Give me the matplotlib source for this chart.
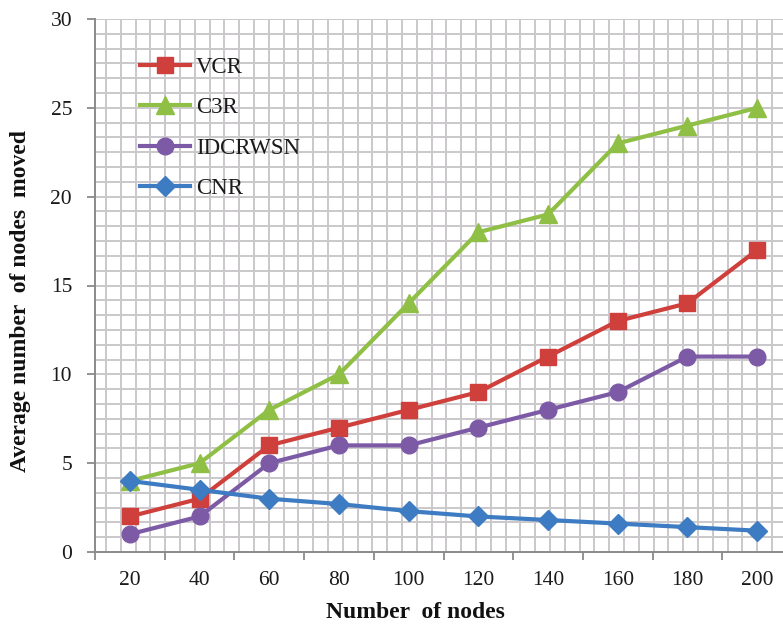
import numpy as np
import matplotlib
matplotlib.use("Agg")
import matplotlib.pyplot as plt
from matplotlib.ticker import MultipleLocator, FixedLocator, NullFormatter

# Data
nodes = [20, 40, 60, 80, 100, 120, 140, 160, 180, 200]
vcr = [2, 3, 6, 7, 8, 9, 11, 13, 14, 17]
c3r = [4, 5, 8, 10, 14, 18, 19, 23, 24, 25]
idcrwsn = [1, 2, 5, 6, 6, 7, 8, 9, 11, 11]
cnr = [4, 3.5, 3, 2.7, 2.3, 2.0, 1.8, 1.6, 1.4, 1.2]

plt.rcParams["font.family"] = ["Liberation Serif", "DejaVu Serif"]

W, H = 783, 630
fig = plt.figure(figsize=(W / 100, H / 100), dpi=100)
ax_left, ax_bottom, ax_w, ax_h = 95, 78, 697, 533
ax = fig.add_axes([ax_left / W, ax_bottom / H, ax_w / W, ax_h / H])

x = np.arange(len(nodes))
ax.set_xlim(-0.5, len(nodes) - 0.5)
ax.set_ylim(0, 30)

# Background grid pattern of the plot area
grid_kw = dict(color="#cbc8cc", linewidth=1.4, zorder=0)
for yv in np.arange(5 / 6, 30.01, 5 / 6):
    ax.axhline(yv, **grid_kw)
step = 14.8 / ax_w
start = (91.2 - ax_left) / ax_w
for xf in np.arange(start, 1.0, step):
    if xf > 0.002:
        ax.axvline(xf * (len(nodes)) - 0.5, **grid_kw)

series = [
    ("VCR", vcr, "#cf3f3b", "s", 11.5),
    ("C3R", c3r, "#8fbf45", "^", 13),
    ("IDCRWSN", idcrwsn, "#7d5aa6", "o", 12),
    ("CNR", cnr, "#3d7cc2", "D", 10),
]
for name, vals, col, mk, ms in series:
    ax.plot(x, vals, color=col, marker=mk, markersize=ms, linewidth=3.0,
            markeredgecolor=col, label=name, zorder=3)

# Axes styling
for s in ["top", "right"]:
    ax.spines[s].set_visible(False)
for s in ["left", "bottom"]:
    ax.spines[s].set_color("#8a8a8a")
    ax.spines[s].set_linewidth(1.4)
    ax.spines[s].set_zorder(2)

ax.yaxis.set_major_locator(MultipleLocator(5))
ax.tick_params(axis="y", which="major", length=6, width=1.3, color="#8a8a8a",
               pad=10.5, labelsize=15.5, labelcolor="#1a1a1a")

ax.set_xticks(x)
ax.set_xticklabels([str(n) for n in nodes])
ax.xaxis.set_minor_locator(FixedLocator(np.arange(-0.5, len(nodes), 1.0)))
ax.xaxis.set_minor_formatter(NullFormatter())
ax.tick_params(axis="x", which="major", length=0, pad=14, labelsize=15.5,
               labelcolor="#1a1a1a")
ax.tick_params(axis="x", which="minor", length=6, width=1.3, color="#8a8a8a")

ax.set_xlabel("Number  of nodes", fontsize=17, fontweight="bold", color="#111111")
ax.xaxis.set_label_coords((415.5 - ax_left) / ax_w, (17 - ax_bottom) / ax_h)
ax.xaxis.label.set_va("center")
ax.set_ylabel("Average number  of nodes  moved", fontsize=17, fontweight="bold",
              color="#111111")
ax.yaxis.set_label_coords((21 - ax_left) / ax_w, (329 - ax_bottom) / ax_h)
ax.yaxis.label.set_va("center")

fs = 16.5
leg = ax.legend(loc="upper left", bbox_to_anchor=(140 / W, (H - 56.5) / H),
                bbox_transform=fig.transFigure, frameon=False, fontsize=fs,
                handlelength=2.2, handletextpad=0.25, labelspacing=0.85,
                borderpad=0, borderaxespad=0)
for t in leg.get_texts():
    t.set_color("#1a1a1a")

fig.savefig("out.png", dpi=100)
